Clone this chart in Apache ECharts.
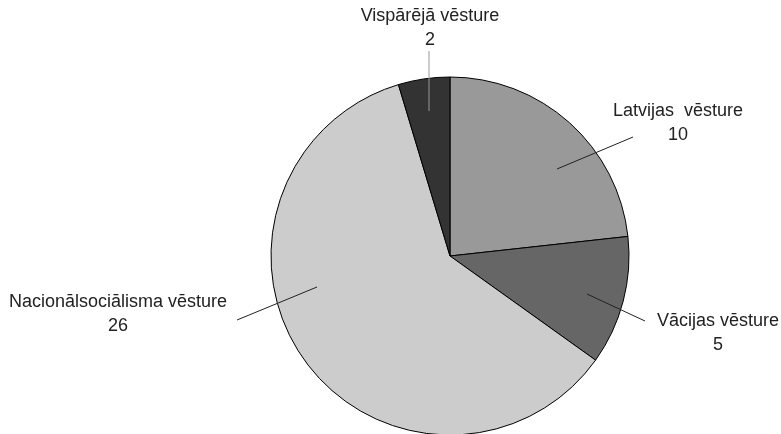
<!DOCTYPE html>
<html>
<head>
<meta charset="utf-8">
<script src="https://cdn.jsdelivr.net/npm/echarts@6/dist/echarts.min.js"></script>
<style>
  html, body { margin: 0; padding: 0; background: #fff; }
  #main { width: 781px; height: 434px; }
</style>
</head>
<body>
<div id="main"></div>
<script>
// dati
var names = ['Latvijas  vēsture', 'Vācijas vēsture', 'Nacionālsociālisma vēsture', 'Vispārējā vēsture'];
var values = [10, 5, 26, 2];
var colors = ['#999999', '#666666', '#cccccc', '#333333'];

// etiķešu izvietojums (pikseļos)
var labelPos = [[678, 123], [718, 333], [118, 314], [430, 28]];
var linePts = [
  [[557, 169], [633, 137]],
  [[587, 294], [645, 321]],
  [[317, 287], [237, 320]],
  [[429, 111], [429, 51]]
];
var lineColors = ['#222', '#222', '#222', '#999'];

var chart = echarts.init(document.getElementById('main'));

var pieBase = {
  type: 'pie',
  center: [450, 256],
  radius: 179,
  startAngle: 90,
  clockwise: true,
  silent: true
};

chart.setOption({
  animation: false,
  series: [
    Object.assign({}, pieBase, {
      itemStyle: { borderColor: '#000', borderWidth: 1 },
      label: { show: false },
      labelLine: { show: false },
      data: names.map(function (n, i) {
        return { name: n, value: values[i], itemStyle: { color: colors[i] } };
      })
    }),
    // caurspīdīga kopija etiķetēm, lai līnijas būtu virs sektoriem
    Object.assign({}, pieBase, {
      z: 5,
      itemStyle: { color: 'rgba(0,0,0,0)', borderWidth: 0 },
      label: {
        show: true,
        position: 'outside',
        formatter: '{b}\n{c}',
        fontFamily: 'Liberation Sans',
        fontSize: 18,
        lineHeight: 24,
        color: '#222',
        align: 'center',
        overflow: 'none',
        width: 300
      },
      labelLine: { show: true, lineStyle: { width: 1 } },
      labelLayout: function (p) {
        var i = p.dataIndex;
        return {
          x: labelPos[i][0],
          y: labelPos[i][1],
          align: 'center',
          verticalAlign: 'middle',
          labelLinePoints: [linePts[i][0], linePts[i][0], linePts[i][1]]
        };
      },
      data: names.map(function (n, i) {
        return { name: n, value: values[i], labelLine: { lineStyle: { color: lineColors[i] } } };
      })
    })
  ]
});
</script>
</body>
</html>
